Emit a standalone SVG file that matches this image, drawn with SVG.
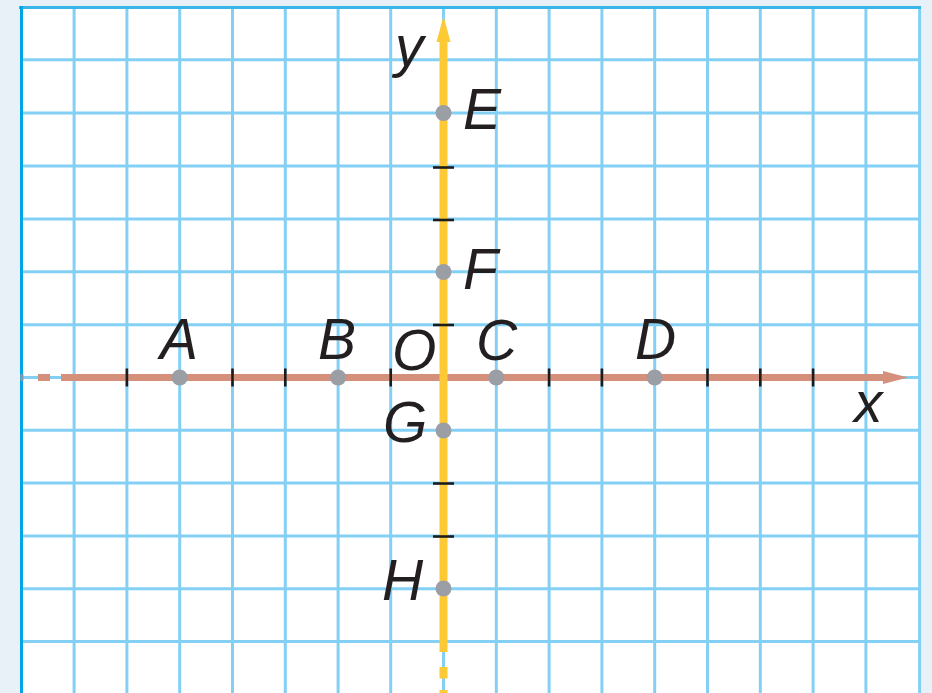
<svg xmlns="http://www.w3.org/2000/svg" width="932" height="693" viewBox="0 0 932 693">
<style>
.grid line{stroke:#84d0f5;stroke-width:3}
.tick{stroke:#1c1c1c;stroke-width:2.6}
.pt{fill:#9c9ea6}
.lbl{font-family:"Liberation Sans",Arial,sans-serif;font-style:italic;font-size:57px;fill:#231f20}
</style>
<rect x="0" y="0" width="932" height="693" fill="#e8f0f8"/>
<rect x="21" y="7" width="899" height="686" fill="#ffffff"/>
<g class="grid" id="grid">
<line x1="74.1" y1="7" x2="74.1" y2="693"/>
<line x1="126.9" y1="7" x2="126.9" y2="693"/>
<line x1="179.7" y1="7" x2="179.7" y2="693"/>
<line x1="232.5" y1="7" x2="232.5" y2="693"/>
<line x1="285.3" y1="7" x2="285.3" y2="693"/>
<line x1="338.1" y1="7" x2="338.1" y2="693"/>
<line x1="390.7" y1="7" x2="390.7" y2="693"/>
<line x1="443.5" y1="7" x2="443.5" y2="693"/>
<line x1="496.3" y1="7" x2="496.3" y2="693"/>
<line x1="549.1" y1="7" x2="549.1" y2="693"/>
<line x1="601.9" y1="7" x2="601.9" y2="693"/>
<line x1="654.7" y1="7" x2="654.7" y2="693"/>
<line x1="707.5" y1="7" x2="707.5" y2="693"/>
<line x1="760.3" y1="7" x2="760.3" y2="693"/>
<line x1="813.1" y1="7" x2="813.1" y2="693"/>
<line x1="865.9" y1="7" x2="865.9" y2="693"/>
<line x1="21" y1="59.7" x2="920" y2="59.7"/>
<line x1="21" y1="112.9" x2="920" y2="112.9"/>
<line x1="21" y1="165.9" x2="920" y2="165.9"/>
<line x1="21" y1="218.9" x2="920" y2="218.9"/>
<line x1="21" y1="271.7" x2="920" y2="271.7"/>
<line x1="21" y1="324.7" x2="920" y2="324.7"/>
<line x1="21" y1="377.5" x2="920" y2="377.5"/>
<line x1="21" y1="430.3" x2="920" y2="430.3"/>
<line x1="21" y1="483.1" x2="920" y2="483.1"/>
<line x1="21" y1="535.9" x2="920" y2="535.9"/>
<line x1="21" y1="588.7" x2="920" y2="588.7"/>
<line x1="21" y1="641.5" x2="920" y2="641.5"/>
<line x1="919.6" y1="6" x2="919.6" y2="693"/>
</g>
<g id="frame">
<line x1="19" y1="7.5" x2="921" y2="7.5" stroke="#3ab5ea" stroke-width="3"/>
<line x1="21.5" y1="6" x2="21.5" y2="693" stroke="#00a5e6" stroke-width="3"/>
</g>
<g id="connectors">
<g id="x-axis" fill="#d4907b" stroke="none">
<rect x="20.5" y="374" width="3" height="7" fill="#8a99a6"/>
<rect x="38" y="374" width="12" height="7"/>
<rect x="61" y="374" width="825" height="7"/>
<polygon points="883,371 908,377.5 883,384"/>
</g>
<g id="y-axis" fill="#fdca36" stroke="none">
<polygon points="443.5,16 450.5,42 447.5,42 447.5,652 439.5,652 439.5,42 436.5,42"/>
<rect x="439.5" y="667" width="8" height="11.5"/>
<rect x="439.5" y="690" width="8" height="4"/>
</g>
<g id="ticks" class="tick">
<line x1="126.9" y1="368.5" x2="126.9" y2="386.5"/>
<line x1="232.5" y1="368.5" x2="232.5" y2="386.5"/>
<line x1="285.3" y1="368.5" x2="285.3" y2="386.5"/>
<line x1="390.7" y1="368.5" x2="390.7" y2="386.5"/>
<line x1="549.1" y1="368.5" x2="549.1" y2="386.5"/>
<line x1="601.9" y1="368.5" x2="601.9" y2="386.5"/>
<line x1="707.5" y1="368.5" x2="707.5" y2="386.5"/>
<line x1="760.3" y1="368.5" x2="760.3" y2="386.5"/>
<line x1="813.1" y1="368.5" x2="813.1" y2="386.5"/>
<line x1="433" y1="167.5" x2="454" y2="167.5"/>
<line x1="433" y1="220" x2="454" y2="220"/>
<line x1="433" y1="325" x2="454" y2="325"/>
<line x1="433" y1="483.5" x2="454" y2="483.5"/>
<line x1="433" y1="536.5" x2="454" y2="536.5"/>
</g>
</g>
<g id="label-y"><text class="lbl" x="395" y="66">y</text></g>
<g id="label-x"><text class="lbl" x="854" y="422">x</text></g>
<g id="label-O"><text class="lbl" x="392" y="370">O</text></g>
<g id="point-A"><circle class="pt" cx="179.7" cy="377.5" r="8"/><text class="lbl" x="160" y="359">A</text></g>
<g id="point-B"><circle class="pt" cx="338.1" cy="377.5" r="8"/><text class="lbl" x="318" y="359">B</text></g>
<g id="point-C"><circle class="pt" cx="496.3" cy="377.5" r="8"/><text class="lbl" x="476" y="360">C</text></g>
<g id="point-D"><circle class="pt" cx="654.7" cy="377.5" r="8"/><text class="lbl" x="635" y="359">D</text></g>
<g id="point-E"><circle class="pt" cx="443.5" cy="113" r="8"/><text class="lbl" x="463" y="129">E</text></g>
<g id="point-F"><circle class="pt" cx="443.5" cy="272" r="8"/><text class="lbl" x="463" y="289">F</text></g>
<g id="point-G"><circle class="pt" cx="443.5" cy="430.5" r="8"/><text class="lbl" x="383" y="442">G</text></g>
<g id="point-H"><circle class="pt" cx="443.5" cy="588.5" r="8"/><text class="lbl" x="382" y="600">H</text></g>
</svg>
